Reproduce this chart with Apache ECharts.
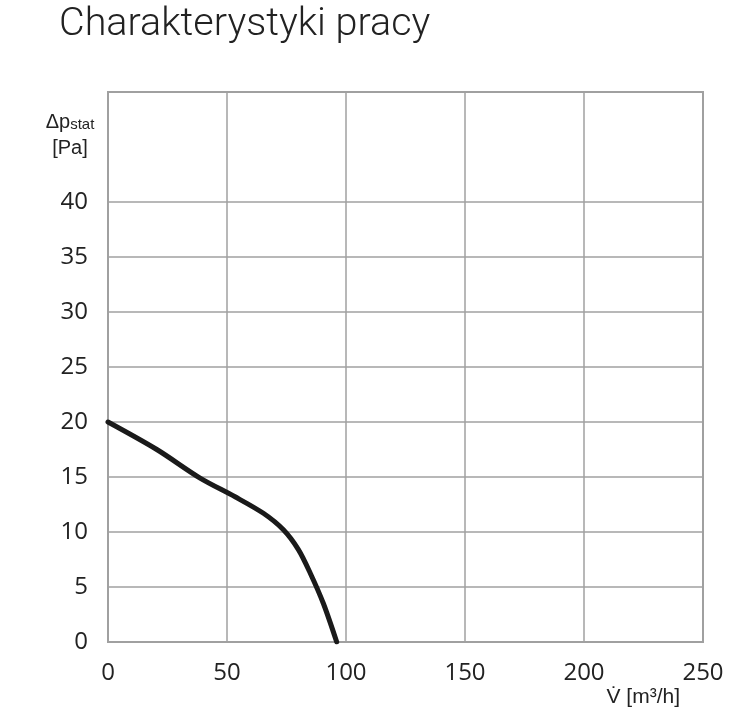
<!DOCTYPE html>
<html><head><meta charset="utf-8">
<script src="https://cdn.jsdelivr.net/npm/echarts@6/dist/echarts.min.js"></script>
<style>html,body{margin:0;padding:0;background:#fff}#c{width:743px;height:727px}</style>
</head><body><div id="c"></div>
<script>
const chartTitle = 'Charakterystyki pracy';
const flow = [0, 20.5, 38.7, 53.4, 65.3, 73.7, 80.0, 84.9, 90.5, 96.1];
const pressure = [20, 17.5, 14.9, 13.2, 11.7, 10.2, 8.4, 6.3, 3.5, 0];
const xTicks = [0, 50, 100, 150, 200, 250];
const yTicks = [0, 5, 10, 15, 20, 25, 30, 35, 40];
const xName = 'V\u0307 [m\u00b3/h]';

const gridGray = '#a0a0a0';
const yLineColors = [];
for (let v = 0; v <= 50; v += 5) yLineColors.push(yTicks.indexOf(v) >= 0 || v === 50 ? gridGray : 'rgba(0,0,0,0)');

const chart = echarts.init(document.getElementById('c'), null, {renderer: 'canvas'});
chart.setOption({
  animation: false,
  backgroundColor: '#fff',
  title: {
    text: chartTitle, left: 54, top: 0,
    textStyle: {fontFamily: 'Roboto', fontWeight: 300, fontSize: 39.5, color: '#222'}
  },
  grid: {left: 108, right: 40, top: 92, bottom: 85, show: true, borderColor: gridGray, borderWidth: 2, containLabel: false},
  xAxis: {
    type: 'value', min: 0, max: 250, interval: 50,
    axisLine: {show: false}, axisTick: {show: false},
    splitLine: {show: true, lineStyle: {color: gridGray, width: 1.5}},
    axisLabel: {
      margin: 19, fontFamily: 'Open Sans', fontSize: 24, color: '#222',
      formatter: v => xTicks.indexOf(v) >= 0 ? String(v) : ''
    },
    name: xName, nameLocation: 'end', nameGap: -23,
    nameTextStyle: {fontFamily: 'Liberation Sans', fontSize: 21, color: '#222', align: 'right', verticalAlign: 'top', padding: [45, 0, 0, 0]}
  },
  yAxis: {
    type: 'value', min: 0, max: 50, interval: 5,
    axisLine: {show: false}, axisTick: {show: false},
    splitLine: {show: true, lineStyle: {color: yLineColors, width: 1.5}},
    axisLabel: {
      margin: 20, fontFamily: 'Open Sans', fontSize: 24, color: '#222',
      formatter: v => yTicks.indexOf(v) >= 0 ? String(v) : ''
    },
    name: '{d|\u0394p}{s|stat}\n{u|[Pa]}', nameLocation: 'end', nameGap: -16,
    nameTextStyle: {
      align: 'center', verticalAlign: 'top', padding: [0, 76, 0, 0],
      rich: {
        d: {fontFamily: 'Liberation Sans', fontSize: 20, color: '#222', lineHeight: 24, verticalAlign: 'bottom'},
        s: {fontFamily: 'Liberation Sans', fontSize: 15, color: '#222', lineHeight: 24, verticalAlign: 'bottom', padding: [13, 0, 0, 0]},
        u: {fontFamily: 'Liberation Sans', fontSize: 20, color: '#222', lineHeight: 26, verticalAlign: 'bottom'}
      }
    }
  },
  series: [{
    type: 'line', data: flow.map((x, i) => [x, pressure[i]]),
    smooth: 0.3, showSymbol: false, symbol: 'none',
    lineStyle: {color: '#1a1a1a', width: 5, cap: 'round'}
  }]
});
</script></body></html>
